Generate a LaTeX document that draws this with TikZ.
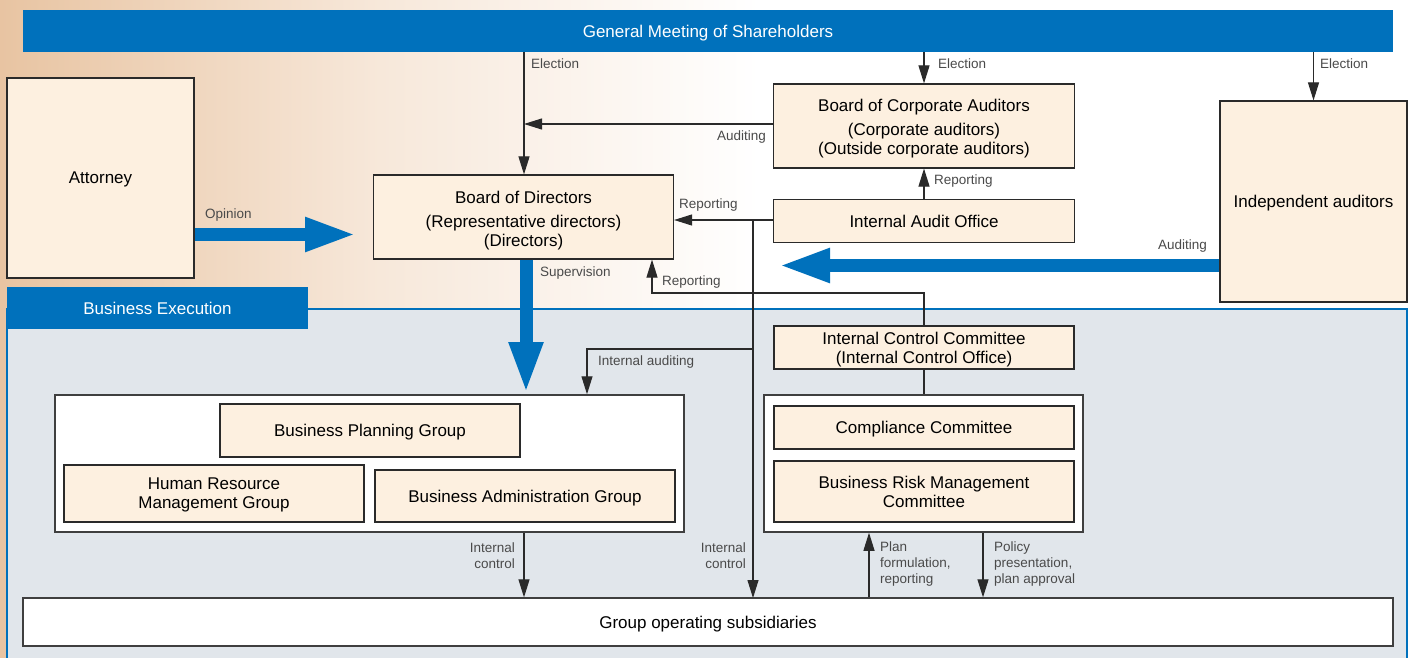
\documentclass[tikz,border=0pt]{standalone}
\usepackage{fontspec}
\setmainfont{Liberation Sans}
\usetikzlibrary{arrows.meta}
\definecolor{cblue}{HTML}{0071BC}
\definecolor{cream}{HTML}{FDF0E0}
\definecolor{region}{HTML}{E1E6EB}
\definecolor{dline}{HTML}{2A2A2A}
\definecolor{tanbg}{HTML}{E8C4A2}
\definecolor{tanmid}{HTML}{F7E8DA}
\tikzset{
  cbox/.style={draw=dline, fill=cream, line width=1.2pt, inner sep=0pt, align=center,
     font=\fontsize{17}{19}\selectfont, text=black, text depth=0pt},
  wbox/.style={draw=dline!90, fill=white, line width=1.5pt, inner sep=0pt},
  bluebar/.style={fill=cblue, inner sep=0pt, text=white, font=\fontsize{17}{19}\selectfont, text depth=0pt},
  lbl/.style={inner sep=0pt, font=\fontsize{13.5}{16}\selectfont, text=dline!85},
  conn/.style={draw=dline, line width=1.1pt},
  arr/.style={conn, -{Triangle[length=18pt 0 0, width=11pt 0 0]}},
  bigarr/.style={draw=cblue, line width=13pt, -{Triangle[length=52pt 0 0, width=31pt 0 0]}},
}
\begin{document}
\begin{tikzpicture}[x=1pt, y=-1pt]
\useasboundingbox (0,0) rectangle (1411,658);
% background
\fill[white] (0,0) rectangle (1411,658);
\shade[left color=tanbg, right color=white, middle color=tanmid] (0,0) rectangle (760,658);
% business execution region
\draw[fill=region, draw=cblue, line width=1.5pt] (7,309) rectangle (1407,680);
\node[bluebar, minimum width=301pt, minimum height=42pt] (bex) at (157.5,308) {Business Execution};
% general meeting bar
\node[bluebar, minimum width=1370pt, minimum height=42pt] (gm) at (708,31) {General Meeting of Shareholders};

% nodes
\node[cbox, minimum width=187pt, minimum height=200pt] (att) at (100.5,178) {Attorney};
\node[cbox, minimum width=300pt, minimum height=84pt] (bod) at (523.5,217)
  {\rule{0pt}{15pt}Board of Directors\\[5pt](Representative directors)\\(Directors)};
\node[cbox, minimum width=301pt, minimum height=84pt] (bca) at (924,126)
  {\rule{0pt}{14pt}Board of Corporate Auditors\\[5pt](Corporate auditors)\\(Outside corporate auditors)};
\node[cbox, minimum width=301pt, minimum height=43pt] (iao) at (924,221) {Internal Audit Office};
\node[cbox, minimum width=187pt, minimum height=201pt] (ia) at (1313.5,201.5) {Independent auditors};

\node[cbox, minimum width=300pt, minimum height=43pt] (icc) at (924,347.5)
  {Internal Control Committee\\(Internal Control Office)};
\node[wbox, minimum width=319pt, minimum height=137pt] (rcont) at (923.5,463.5) {};
\node[cbox, minimum width=300pt, minimum height=43pt] (cc) at (924,427.5) {Compliance Committee};
\node[cbox, minimum width=300pt, minimum height=61pt] (brm) at (924,491.5)
  {Business Risk Management\\Committee};

\node[wbox, minimum width=629pt, minimum height=137pt] (lcont) at (369.5,463.5) {};
\node[cbox, minimum width=300pt, minimum height=53pt] (bpg) at (370,430.5) {Business Planning Group};
\node[cbox, minimum width=300pt, minimum height=57pt] (hrm) at (214,493.5) {Human Resource\\Management Group};
\node[cbox, minimum width=300pt, minimum height=52pt] (bag) at (525,496) {Business Administration Group};

\node[wbox, line width=1.3pt, minimum width=1370pt, minimum height=48pt, text depth=0pt,
  font=\fontsize{17}{19}\selectfont] (gos) at (708,622) {Group operating subsidiaries};

% coordinates
\coordinate (opTip) at (357,234.5);
\coordinate (supTip) at (526,394);
\coordinate (audTip) at (778,265.5);
\coordinate (elecL) at (524,52);
\coordinate (audJ) at (524,124);
\coordinate (vtop) at (753,220);
\coordinate (vbr) at (753,349);
\coordinate (vbot) at (753,598);
\coordinate (rpt) at (652,293);

% thin connectors
\draw[arr] (elecL) -- (bod.north -| elecL);
\draw[arr] (bca.west |- audJ) -- (audJ);
\draw[arr] (bca.north |- gm.south) -- (bca.north);
\draw[arr] (ia.north |- gm.south) -- (ia.north);
\draw[arr] (iao.north) -- (bca.south);
\draw[arr] (iao.west |- vtop) -- (bod.east |- vtop);
\draw[arr] (vtop) -- (vbot);
\draw[arr] (vbr) -- (587,349) -- (lcont.north -| 587,0);
\draw[arr] (icc.north) -- (icc.north |- rpt) -- (rpt) -- (bod.south -| rpt);
\draw[conn] (icc.south) -- (rcont.north -| icc.south);
\draw[arr] (lcont.south -| 524,0) -- (gos.north -| 524,0);
\draw[arr] (gos.north -| 869,0) -- (rcont.south -| 869,0);
\draw[arr] (rcont.south -| 983,0) -- (gos.north -| 983,0);

% big blue arrows
\draw[bigarr] (att.east |- opTip) -- (opTip);
\draw[bigarr] (bod.south -| supTip) -- (supTip);
\draw[bigarr] (ia.west |- audTip) -- (audTip);

% labels
\node[lbl, anchor=west] at (531,64) {Election};
\node[lbl, anchor=west] at (938,64) {Election};
\node[lbl, anchor=west] at (1320,64) {Election};
\node[lbl, anchor=east] at (766,137) {Auditing};
\node[lbl, anchor=west] at (934,181) {Reporting};
\node[lbl, anchor=west] at (679,205) {Reporting};
\node[lbl, anchor=west] at (205,215) {Opinion};
\node[lbl, anchor=west] at (540,273) {Supervision};
\node[lbl, anchor=west] at (662,282) {Reporting};
\node[lbl, anchor=east] at (1207,246) {Auditing};
\node[lbl, anchor=west] at (598,362) {Internal auditing};
\node[lbl, anchor=east, align=right] at (515,556) {Internal\\control};
\node[lbl, anchor=east, align=right] at (746,556) {Internal\\control};
\node[lbl, anchor=west, align=left] at (880,564) {Plan\\formulation,\\reporting};
\node[lbl, anchor=west, align=left] at (994,564) {Policy\\presentation,\\plan approval};
\end{tikzpicture}
\end{document}
